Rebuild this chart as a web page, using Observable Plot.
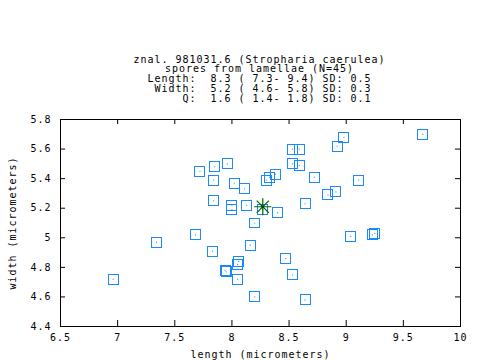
<!DOCTYPE html>
<html><head><meta charset="utf-8">
<script src="https://cdn.jsdelivr.net/npm/d3@7"></script>
<script src="https://cdn.jsdelivr.net/npm/@observablehq/plot@0.6"></script>
<style>
html,body{margin:0;padding:0;background:#fff;}
#title{box-sizing:border-box;height:103px;padding:54.5px 0 0 39px;font:10px/9.75px "DejaVu Sans Mono",monospace;letter-spacing:0.98px;white-space:pre;text-align:center;color:#000;overflow:visible;}
svg{display:block}
</style></head><body>
<div id="title"></div>
<div id="chart"></div>
<script>
const titleLines = [
  "znal. 981031.6 (Stropharia caerulea)",
  "spores from lamellae (N=45)",
  "Length:  8.3 ( 7.3- 9.4) SD: 0.5",
  " Width:  5.2 ( 4.6- 5.8) SD: 0.3",
  "     Q:  1.6 ( 1.4- 1.8) SD: 0.1"
];
const lengths = [7.72,7.85,7.96,7.84,8.02,8.11,7.84,8.00,8.00,8.13,
  9.67,8.98,8.92,8.53,8.59,8.53,8.59,8.38,8.33,8.30,8.72,9.11,8.91,8.84,8.64,8.40,
  6.96,7.34,7.68,7.83,7.94,7.95,8.06,8.05,8.05,8.16,8.20,8.20,
  9.04,9.23,9.25,8.47,8.53,8.64,8.27];
const widths = [5.45,5.48,5.50,5.39,5.37,5.33,5.25,5.22,5.19,5.22,
  5.70,5.68,5.62,5.60,5.60,5.50,5.49,5.43,5.41,5.39,5.41,5.39,5.31,5.29,5.23,5.17,
  4.72,4.97,5.02,4.91,4.78,4.77,4.84,4.82,4.72,4.95,5.10,4.60,
  5.01,5.02,5.03,4.86,4.75,4.58,5.19];
const meanLength = [8.27];
const meanWidth = [5.21];
const xTicks = [6.5,7,7.5,8,8.5,9,9.5,10];
const yTicks = [4.4,4.6,4.8,5,5.2,5.4,5.6,5.8];
const xLabel = "length (micrometers)";
const yLabel = "width (micrometers)";

const spores = lengths.map((l,i)=>({length:l, width:widths[i]}));
const center = meanLength.map((l,i)=>({length:l, width:meanWidth[i]}));
document.getElementById("title").textContent = titleLines.join("\n");

const blue = "#1a88ff", green = "#006400";
const chart = Plot.plot({
  width: 480, height: 257,
  marginTop: 16, marginBottom: 34, marginLeft: 60, marginRight: 20,
  style: {fontFamily: '"DejaVu Sans Mono", monospace', fontSize: "10px", letterSpacing: "0.98px", background: "white", color: "black", overflow: "visible"},
  x: {domain: [6.5, 10]},
  y: {domain: [4.4, 5.8]},
  marks: [
    Plot.ruleX(xTicks.slice(1,-1), {stroke: "black", insetTop: 201}),
    Plot.ruleX(xTicks.slice(1,-1), {stroke: "black", insetBottom: 202}),
    Plot.ruleY(yTicks.slice(1,-1), {stroke: "black", insetRight: 395}),
    Plot.ruleY(yTicks.slice(1,-1), {stroke: "black", insetLeft: 395}),
    Plot.frame({stroke: "black"}),
    Plot.axisX(xTicks, {tickSize: 0, tickPadding: 7.5, tickFormat: d => String(d), label: null}),
    Plot.axisY(yTicks, {tickSize: 0, tickPadding: 9, tickFormat: d => String(d), label: null}),
    Plot.text([xLabel], {text: d => d, frameAnchor: "bottom", textAnchor: "middle", dy: 28, lineAnchor: "middle"}),
    Plot.text([yLabel], {text: d => d, frameAnchor: "left", textAnchor: "middle", dx: -48, rotate: -90, lineAnchor: "middle"}),
    Plot.dot(spores, {x: "length", y: "width", symbol: "square", r: 5.64, stroke: blue, fill: "none", strokeWidth: 1, shapeRendering: "crispEdges"}),
    Plot.dot(spores, {x: "length", y: "width", r: 0.6, fill: blue, stroke: "none"}),
    Plot.dot(center, {x: "length", y: "width", symbol: "plus", r: 5.6, stroke: green, strokeWidth: 1.2}),
    Plot.dot(center, {x: "length", y: "width", symbol: "times", r: 5.6, stroke: green, strokeWidth: 1.2}),
    Plot.dot(center, {x: "length", y: "width", r: 1.6, fill: "#004000", stroke: "none"})
  ]
});
document.getElementById("chart").appendChild(chart);
</script>
</body></html>
